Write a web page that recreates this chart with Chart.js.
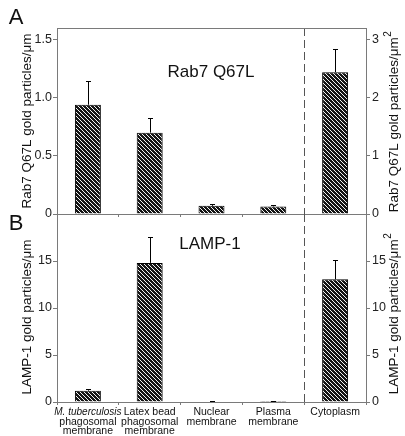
<!DOCTYPE html>
<html>
<head>
<meta charset="utf-8">
<script src="https://cdn.jsdelivr.net/npm/chart.js@4"></script>
<style>
  body { margin: 0; background: #fff; }
  #wrap { position: relative; width: 405px; height: 436px; overflow: hidden; }
  canvas { position: absolute; left: 0; }
</style>
</head>
<body>
<div id="wrap">
  <canvas id="chartA" width="405" height="220" style="top:0"></canvas>
  <canvas id="chartB" width="405" height="236" style="top:200px"></canvas>
</div>
<script>
const categories = ["M. tuberculosis phagosomal membrane", "Latex bead phagosomal membrane", "Nuclear membrane", "Plasma membrane", "Cytoplasm"];
const categoryLines = [
  ["M. tuberculosis", "phagosomal", "membrane"],
  ["Latex bead", "phagosomal", "membrane"],
  ["Nuclear", "membrane"],
  ["Plasma", "membrane"],
  ["Cytoplasm"],
];

// panel A: Rab7 Q67L, membranes per um (left axis), cytoplasm per um2 (right axis)
const rab7Membrane = [0.94, 0.70, 0.07, 0.065, null];
const rab7MembraneErr = [0.20, 0.13, 0.015, 0.01, null];
const rab7Cytoplasm = [null, null, null, null, 2.44];
const rab7CytoplasmErr = [null, null, null, null, 0.40];
const rab7LeftTicks = [0, 0.5, 1.0, 1.5];
const rab7RightTicks = [0, 1, 2, 3];

// panel B: LAMP-1
const lampMembrane = [1.2, 14.8, 0.05, 0.1, null];
const lampMembraneErr = [0.2, 2.75, 0.02, 0.03, null];
const lampCytoplasm = [null, null, null, null, 13.05];
const lampCytoplasmErr = [null, null, null, null, 2.1];
const lampLeftTicks = [0, 5, 10, 15];
const lampRightTicks = [0, 5, 10, 15];

const FONT = "'Liberation Sans', Arial, Helvetica, sans-serif";
const AXIS_GREY = "#7a7a7a";

function makeHatch() {
  const tile = document.createElement("canvas");
  tile.width = 4;
  tile.height = 4;
  const c = tile.getContext("2d");
  c.fillStyle = "#151515";
  c.fillRect(0, 0, 4, 4);
  c.fillStyle = "#f4f4f4";
  for (let x = 0; x < 4; x++) {
    c.fillRect(x, x, 1, 1);
  }
  return c.createPattern(tile, "repeat");
}
const hatch = makeHatch();

function fixedTicks(values) {
  return (scale) => {
    scale.ticks = values.map((v) => ({ value: v }));
  };
}

function yAxis(position, max, ticks, format) {
  return {
    type: "linear",
    position,
    min: 0,
    max,
    afterBuildTicks: fixedTicks(ticks),
    afterFit: (s) => {
      s.width = position === "left" ? 57 : 39;
      s.paddingTop = 0;
      s.paddingBottom = 0;
    },
    grid: { drawOnChartArea: false, drawTicks: true, tickLength: 4, color: AXIS_GREY },
    border: { color: AXIS_GREY, width: 1 },
    ticks: {
      padding: position === "left" ? 1 : 2,
      color: "#222",
      font: { family: FONT, size: 12.5 },
      callback: format,
    },
  };
}

const panelPlugin = {
  id: "panel",
  afterDatasetsDraw(chart, args, opts) {
    const { ctx, chartArea } = chart;
    const x = chart.scales.x;

    ctx.save();
    // error bars
    chart.data.datasets.forEach((ds, di) => {
      const meta = chart.getDatasetMeta(di);
      const yScale = chart.scales[ds.yAxisID];
      ds.errors.forEach((err, i) => {
        if (err == null || ds.data[i] == null) return;
        const bar = meta.data[i];
        const top = yScale.getPixelForValue(ds.data[i] + err);
        ctx.strokeStyle = "#000";
        ctx.lineWidth = 1;
        ctx.beginPath();
        ctx.moveTo(Math.round(bar.x) + 0.5, bar.y);
        ctx.lineTo(Math.round(bar.x) + 0.5, Math.round(top) + 0.5);
        ctx.moveTo(Math.round(bar.x) - 2, Math.round(top) + 0.5);
        ctx.lineTo(Math.round(bar.x) + 3, Math.round(top) + 0.5);
        ctx.stroke();
      });
    });

    // dashed separator between membranes and cytoplasm
    const sepX = Math.round((x.getPixelForValue(3) + x.getPixelForValue(4)) / 2) + 0.5;
    ctx.strokeStyle = "#555";
    ctx.setLineDash([8, 4]);
    ctx.beginPath();
    ctx.moveTo(sepX, chartArea.top);
    ctx.lineTo(sepX, chartArea.bottom);
    ctx.stroke();
    ctx.setLineDash([]);

    // top frame line
    if (opts.topLine) {
      ctx.strokeStyle = AXIS_GREY;
      ctx.beginPath();
      ctx.moveTo(chartArea.left, Math.round(chartArea.top) + 0.5);
      ctx.lineTo(chartArea.right, Math.round(chartArea.top) + 0.5);
      ctx.stroke();
    }

    ctx.fillStyle = "#111";
    ctx.textAlign = "center";
    ctx.textBaseline = "middle";

    // panel letter
    ctx.font = "22px " + FONT;
    ctx.fillText(opts.letter, 16, opts.letterY);

    // inner title
    ctx.font = "17px " + FONT;
    ctx.fillText(opts.title, opts.titleX, opts.titleY);

    // left axis title
    ctx.font = "13.5px " + FONT;
    ctx.save();
    ctx.translate(27, opts.leftTitleY);
    ctx.rotate(-Math.PI / 2);
    ctx.fillText(opts.leftTitle, 0, 0);
    ctx.restore();

    // right axis title with superscript 2
    ctx.save();
    ctx.translate(394, opts.rightTitleY);
    ctx.rotate(-Math.PI / 2);
    ctx.textAlign = "left";
    ctx.font = "13.5px " + FONT;
    const mainW = ctx.measureText(opts.rightTitle).width;
    ctx.font = "10px " + FONT;
    const supW = ctx.measureText("2").width;
    const start = -(mainW + supW) / 2;
    ctx.font = "13.5px " + FONT;
    ctx.fillText(opts.rightTitle, start, 0);
    ctx.font = "10px " + FONT;
    ctx.fillText("2", start + mainW + 0.5, -6);
    ctx.restore();

    // category labels
    if (opts.xLabels) {
      categoryLines.forEach((lines, i) => {
        const cx = x.getPixelForValue(i);
        lines.forEach((line, li) => {
          const italic = i === 0 && li === 0;
          ctx.font = (italic ? "italic 10px " : "10.5px ") + FONT;
          ctx.fillText(line, cx, chartArea.bottom + 10.5 + li * 9.5);
        });
      });
    }
    ctx.restore();
  },
};

function buildChart(canvasId, cfg) {
  return new Chart(document.getElementById(canvasId), {
    type: "bar",
    data: {
      labels: categories,
      datasets: [
        {
          data: cfg.membrane,
          errors: cfg.membraneErr,
          yAxisID: "y",
          backgroundColor: hatch,
          borderColor: "#000",
          borderWidth: 1,
        },
        {
          data: cfg.cytoplasm,
          errors: cfg.cytoplasmErr,
          yAxisID: "y2",
          backgroundColor: hatch,
          borderColor: "#000",
          borderWidth: 1,
        },
      ],
    },
    options: {
      responsive: false,
      animation: false,
      devicePixelRatio: 1,
      layout: { padding: { top: cfg.padTop, left: 0, right: 0, bottom: 0 } },
      datasets: { bar: { grouped: false, categoryPercentage: 1, barPercentage: 0.42 } },
      scales: {
        x: {
          afterFit: (s) => {
            s.height = cfg.xHeight;
            s.paddingLeft = 0;
            s.paddingRight = 0;
          },
          grid: { drawOnChartArea: false, drawTicks: true, tickLength: 3, color: AXIS_GREY, offset: true },
          border: { color: AXIS_GREY, width: 1 },
          ticks: { display: false },
        },
        y: yAxis("left", cfg.leftMax, cfg.leftTicks, cfg.leftFormat),
        y2: yAxis("right", cfg.rightMax, cfg.rightTicks, (v) => String(v)),
      },
      plugins: {
        legend: { display: false },
        tooltip: { enabled: false },
        panel: cfg.panel,
      },
    },
    plugins: [panelPlugin],
  });
}

buildChart("chartA", {
  membrane: rab7Membrane,
  membraneErr: rab7MembraneErr,
  cytoplasm: rab7Cytoplasm,
  cytoplasmErr: rab7CytoplasmErr,
  leftMax: 1.6,
  rightMax: 3.2,
  leftTicks: rab7LeftTicks,
  rightTicks: rab7RightTicks,
  leftFormat: (v) => (v === 0 ? "0" : v.toFixed(1)),
  padTop: 28,
  xHeight: 6,
  panel: {
    letter: "A",
    letterY: 18,
    title: "Rab7 Q67L",
    titleX: 211,
    titleY: 72,
    leftTitle: "Rab7 Q67L gold particles/\u03bcm",
    leftTitleY: 121,
    rightTitle: "Rab7 Q67L gold particles/\u03bcm",
    rightTitleY: 122,
    topLine: true,
    xLabels: false,
  },
});

buildChart("chartB", {
  membrane: lampMembrane,
  membraneErr: lampMembraneErr,
  cytoplasm: lampCytoplasm,
  cytoplasmErr: lampCytoplasmErr,
  leftMax: 20,
  rightMax: 20,
  leftTicks: lampLeftTicks,
  rightTicks: lampRightTicks,
  leftFormat: (v) => String(v),
  padTop: 14,
  xHeight: 34,
  panel: {
    letter: "B",
    letterY: 24,
    title: "LAMP-1",
    titleX: 210,
    titleY: 44,
    leftTitle: "LAMP-1 gold particles/\u03bcm",
    leftTitleY: 117,
    rightTitle: "LAMP-1 gold particles/\u03bcm",
    rightTitleY: 114,
    topLine: false,
    xLabels: true,
  },
});
</script>
</body>
</html>
